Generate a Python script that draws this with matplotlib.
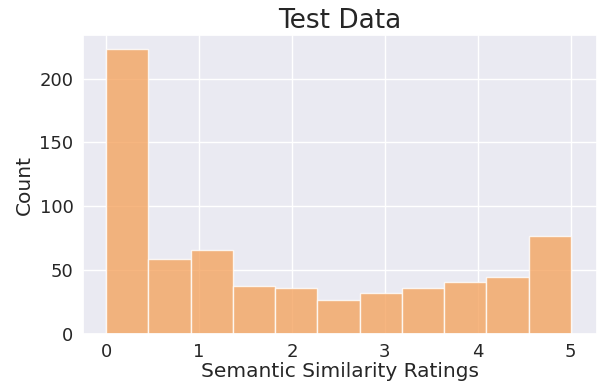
import numpy as np
import matplotlib
matplotlib.use('Agg')
import matplotlib.pyplot as plt
import seaborn as sns

# histogram counts (11 equal bins over 0..5)
bin_lo = 0.0
bin_hi = 5.0
counts = [223, 59, 66, 38, 36, 27, 32, 36, 41, 45, 77]

sns.set_theme(style='darkgrid')
plt.rcParams['font.family'] = ['DejaVu Sans']

edges = np.linspace(bin_lo, bin_hi, len(counts) + 1)
widths = np.diff(edges)

fig, ax = plt.subplots(figsize=(5.98, 3.85), dpi=100)
ax.bar(edges[:-1], counts, width=widths, align='edge',
       color='sandybrown', alpha=0.8, edgecolor='white', linewidth=1)

ax.set_xlim(-0.247, 5.28)
ax.set_ylim(0, 234)
ax.set_xticks([0, 1, 2, 3, 4, 5])
ax.set_yticks([0, 50, 100, 150, 200])
ax.tick_params(axis='x', labelsize=13, pad=6, length=0)
ax.tick_params(axis='y', labelsize=13, pad=7, length=0)
ax.set_title('Test Data', fontsize=19, pad=5)
ax.set_xlabel('Semantic Similarity Ratings', fontsize=14.5, labelpad=1)
ax.set_ylabel('Count', fontsize=14.5, labelpad=4)

fig.subplots_adjust(left=0.139, right=0.998, top=0.909, bottom=0.132)
fig.savefig('out.png', dpi=100)
